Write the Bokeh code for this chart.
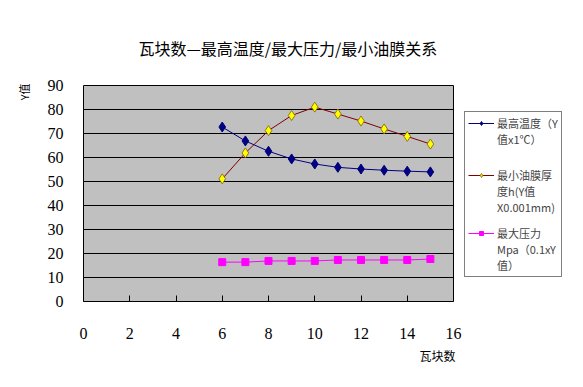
from bokeh.plotting import figure
from bokeh.layouts import row
from bokeh.models import ColumnDataSource, Legend, LegendItem, FixedTicker, Title
from bokeh.embed import file_html
from bokeh.resources import INLINE

# ---- data ----
pads = [6, 7, 8, 9, 10, 11, 12, 13, 14, 15]
max_temp = [72.7, 66.9, 62.6, 59.4, 57.3, 55.9, 55.2, 54.7, 54.3, 54.0]
min_film = [51.1, 61.9, 71.2, 77.5, 81.0, 78.1, 75.2, 71.9, 68.8, 65.6]
max_press = [16.4, 16.4, 16.9, 16.9, 16.9, 17.3, 17.3, 17.3, 17.3, 17.7]
x_ticks = [0, 2, 4, 6, 8, 10, 12, 14, 16]
y_ticks = [0, 10, 20, 30, 40, 50, 60, 70, 80, 90]
title_text = "瓦块数—最高温度/最大压力/最小油膜关系"
x_title = "瓦块数"
y_title = "Y值"
# legend text, one list of lines per series (padded to 4 rows like the original)
label_lines = [
    ["最高温度（Y", "值x1℃）", " ", " "],
    ["最小油膜厚", "度h(Y值", "X0.001mm)", " "],
    ["最大压力", "Mpa（0.1xY", "值）"],
]

CJK = "Noto Sans CJK SC"
SERIF = "Liberation Serif"

styles = [
    dict(line_color="#000080", marker="diamond", size=10, fill_color="#000080", mline="#000080", mlw=1),
    dict(line_color="#800000", marker="diamond", size=10, fill_color="#FFFF00", mline="#806000", mlw=0.8),
    dict(line_color="#FF00FF", marker="square", size=7, fill_color="#FF00FF", mline="#FF00FF", mlw=1),
]

p = figure(frame_width=370, frame_height=216, x_range=(0, 16), y_range=(0, 90),
           output_backend="svg", toolbar_location=None,
           min_border_left=83, min_border_right=10, min_border_top=85, min_border_bottom=78)
p.border_fill_color = "white"
p.background_fill_color = "#C0C0C0"
p.outline_line_color = "black"
p.outline_line_width = 1

p.xgrid.grid_line_color = None
p.ygrid.grid_line_color = "black"
p.ygrid.grid_line_width = 1
p.ygrid.grid_line_alpha = 1

p.xaxis.ticker = FixedTicker(ticks=x_ticks)
p.yaxis.ticker = FixedTicker(ticks=y_ticks)
for ax in (p.xaxis, p.yaxis):
    ax.axis_line_color = None
    ax.minor_tick_line_color = None
    ax.major_label_text_font = SERIF
    ax.major_label_text_font_size = "16px"
    ax.major_label_text_color = "black"
p.xaxis.major_tick_in = 6
p.xaxis.major_tick_out = 0
p.xaxis.major_tick_line_color = "black"
p.xaxis.major_label_standoff = 26
p.yaxis.major_tick_in = 0
p.yaxis.major_tick_out = 0
p.yaxis.major_label_standoff = 20

src = ColumnDataSource(dict(x=pads, t=max_temp, f=min_film, pr=max_press))
cols = ["t", "f", "pr"]
for col, st in zip(cols, styles):
    p.line("x", col, source=src, line_color=st["line_color"], line_width=1)
    p.scatter("x", col, source=src, marker=st["marker"], size=st["size"],
              fill_color=st["fill_color"], line_color=st["mline"], line_width=st["mlw"])

p.add_layout(Title(text=title_text, align="left", offset=55, standoff=51,
                   text_font=CJK, text_font_size="16px", text_font_style="normal",
                   text_color="black"), "above")
p.add_layout(Title(text=x_title, align="right", offset=-2, standoff=7,
                   text_font=CJK, text_font_size="12px", text_font_style="normal",
                   text_color="black"), "below")
p.add_layout(Title(text=y_title, align="right", offset=-2, standoff=25,
                   text_font=CJK, text_font_size="11px", text_font_style="normal",
                   text_color="black"), "left")

# legend panel as a separate small figure (its frame aligns with the main frame)
lp = figure(width=112, height=379, x_range=(100, 101), y_range=(1000, 1001),
            output_backend="svg", toolbar_location=None,
            min_border=0, x_axis_type=None, y_axis_type=None)
lp.outline_line_color = None
lp.xgrid.grid_line_color = None
lp.ygrid.grid_line_color = None
lp.background_fill_color = "white"
lp.border_fill_color = "white"
items = []
for lines, col, st in zip(label_lines, cols, styles):
    r1 = lp.line("x", col, source=src, line_color=st["line_color"], line_width=1)
    r2 = lp.scatter("x", col, source=src, marker=st["marker"], size=st["size"] * 0.8,
                    fill_color=st["fill_color"], line_color=st["mline"], line_width=st["mlw"])
    items.append(LegendItem(label=lines[0], renderers=[r1, r2]))
    for extra in lines[1:]:
        items.append(LegendItem(label=extra, renderers=[]))
legend = Legend(items=items, location=(1, 24))
legend.label_text_font = CJK
legend.label_text_font_size = "11px"
legend.label_text_line_height = 0.75
legend.label_height = 10
legend.glyph_width = 26
legend.glyph_height = 10
try:
    legend.spacing = -1
except Exception:
    legend.spacing = 0
legend.padding = 3
legend.margin = 0
legend.label_standoff = 3
legend.border_line_color = "black"
legend.border_line_width = 1
legend.background_fill_color = "white"
legend.background_fill_alpha = 1
lp.add_layout(legend, "center")

layout = row(p, lp, spacing=0)
open("out.html", "w").write(file_html(layout, INLINE))
